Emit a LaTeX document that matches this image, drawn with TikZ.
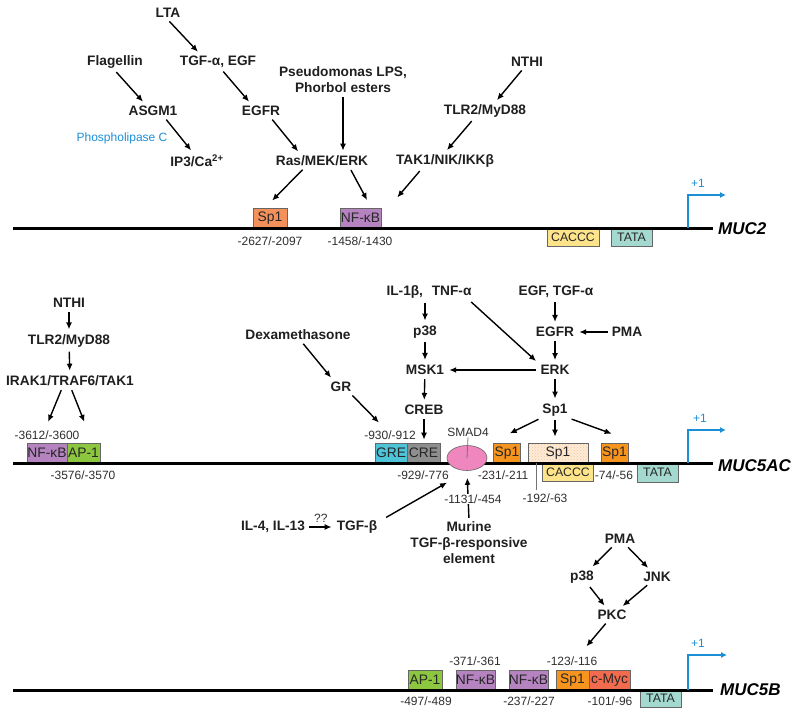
\documentclass[tikz,border=0pt]{standalone}
\usepackage{fontspec}
\setmainfont{Liberation Sans}
\usetikzlibrary{arrows.meta,shapes.geometric,patterns}
\definecolor{tssblue}{HTML}{1B8FD6}
\definecolor{sporange}{HTML}{F7941D}
\definecolor{spsalmon}{HTML}{F4915B}
\definecolor{nfpurple}{HTML}{B584C0}
\definecolor{apgreen}{HTML}{8DC63F}
\definecolor{cacyellow}{HTML}{FDE38A}
\definecolor{tatateal}{HTML}{A3D9CF}
\definecolor{grecyan}{HTML}{4EC4D9}
\definecolor{cregray}{HTML}{8E8E8E}
\definecolor{smadpink}{HTML}{EF86BD}
\definecolor{mycred}{HTML}{F26B4E}
\definecolor{sppale}{HTML}{FDEBDA}

\begin{document}
\begin{tikzpicture}[x=1pt,y=-1pt,
  sig/.style={font=\fontsize{13.7}{16}\selectfont\bfseries, text=black!88, inner sep=2pt, align=center},
  num/.style={font=\fontsize{12}{14}\selectfont, text=black!82, inner sep=1pt},
  site/.style={draw=black!60, line width=0.6pt, minimum height=20pt, inner sep=0pt, font=\fontsize{13.8}{14}\selectfont, text=black!85},
  lowsite/.style={site, minimum height=18pt, font=\fontsize{12.3}{14}\selectfont},
  gene/.style={font=\fontsize{17}{20}\selectfont\bfseries\itshape, anchor=west, inner sep=0pt},
  dna/.style={line width=3pt},
  arr/.style={->, line width=1.4pt, shorten >=3pt, shorten <=2pt},
  tss/.style={-{Latex[length=6pt,width=6pt]}, draw=tssblue, line width=1.3pt},
  tick/.style={draw=black!55, line width=0.8pt},
  >={Latex[length=7pt,width=6pt]}]
      \useasboundingbox (0,0) rectangle (800,716);

      \node[sig] (lta) at (168,13) {LTA};
      \node[sig] (tgfegf) at (218,62) {TGF-α, EGF};
      \node[sig] (flag) at (115,62) {Flagellin};
      \node[sig] (lps) at (343,80) {Pseudomonas LPS,\\Phorbol esters};
      \node[sig] (asgm) at (153,111) {ASGM1};
      \node[sig] (egfr) at (261,111) {EGFR};
      \node[num, text=tssblue] (plc) at (122,138) {Phospholipase C};
      \node[sig] (ipca) at (197,161) {IP3/Ca\textsuperscript{2+}};
      \node[sig] (ras) at (322,161) {Ras/MEK/ERK};
      \node[sig] (nthi) at (527,62) {NTHI};
      \node[sig] (tlr) at (485,111) {TLR2/MyD88};
      \node[sig] (tak) at (445,161) {TAK1/NIK/IKKβ};

      \node[site, fill=spsalmon, minimum width=34pt] (spone) at (270,218) {Sp1};
      \node[site, fill=nfpurple, minimum width=41pt] (nfone) at (360.5,218) {NF-κB};
      \node[lowsite, fill=cacyellow, minimum width=52pt] (cacone) at (573,237) {CACCC};
      \node[lowsite, fill=tatateal, minimum width=41pt] (tataone) at (631.5,237) {TATA};
      \node[num] (pspone) at (270,241) {-2627/-2097};
      \node[num] (pnfone) at (360,241) {-1458/-1430};
      \node[gene] (mucii) at (718,229) {MUC2};
      \coordinate (dnaone) at (13,228);
      \coordinate (tssone) at (688,228);
      \draw[dna] (dnaone) -- (dnaone -| mucii.west) [shorten >=5pt];
      \draw[tss] (tssone) -- ++(0,-33) -- ++(38,0);
      \node[num, text=tssblue] (plusone) at (698,183) {+1};

      \draw[arr] (lta.south) -- ([xshift=-18pt]tgfegf.north);
      \draw[arr] (flag.south) -- ([xshift=-8pt]asgm.north);
      \draw[arr] ([xshift=4pt]tgfegf.south) -- ([xshift=-10pt]egfr.north);
      \draw[arr] ([xshift=12pt]asgm.south) -- ([xshift=-4pt]ipca.north);
      \draw[arr] ([xshift=10pt]egfr.south) -- ([xshift=-22pt]ras.north);
      \draw[arr] (lps.south) -- (lps.south |- ras.north);
      \draw[arr] ([xshift=-4pt]nthi.south) -- ([xshift=10pt]tlr.north);
      \draw[arr] ([xshift=-12pt]tlr.south) -- (tak.north);
      \draw[arr] ([xshift=-18pt]ras.south) -- ([yshift=5pt]spone.north);
      \draw[arr] ([xshift=28pt]ras.south) -- ([xshift=8pt,yshift=5pt]nfone.north);
      \draw[arr] ([xshift=-24pt]tak.south) -- ([xshift=14pt,yshift=8pt]nfone.north east);

      \node[sig] (nthia) at (69,303) {NTHI};
      \node[sig] (tlra) at (69,341) {TLR2/MyD88};
      \node[sig] (irak) at (70,381) {IRAK1/TRAF6/TAK1};
      \node[sig] (dex) at (298,335) {Dexamethasone};
      \node[sig] (gr) at (341,387) {GR};
      \node[sig] (ilone) at (429,292) {IL-1β,\hspace{5pt} TNF-α};
      \node[sig] (ptea) at (425,332) {p38};
      \node[sig] (msk) at (425,370) {MSK1};
      \node[sig] (creb) at (424,410) {CREB};
      \node[sig] (egfa) at (556,292) {EGF, TGF-α};
      \node[sig] (egfra) at (555,332) {EGFR};
      \node[sig] (pmaa) at (627,332) {PMA};
      \node[sig] (erk) at (555,370) {ERK};
      \node[sig] (spn) at (555,410) {Sp1};
      \node[sig] (ilfour) at (273,527) {IL-4, IL-13};
      \node[sig] (tgfb) at (357,527) {TGF-β};
      \node[sig] (murine) at (469,543) {Murine\\TGF-β-responsive\\element};

      \node[site, fill=nfpurple, minimum width=40pt] (nfa) at (47,453) {NF-κB};
      \node[site, fill=apgreen, minimum width=33pt] (apa) at (83.5,453) {AP-1};
      \node[site, fill=grecyan, minimum width=32pt] (gre) at (391,453) {GRE};
      \node[site, fill=cregray, minimum width=33pt] (cre) at (423.5,453) {CRE};
      \node[site, fill=sporange, minimum width=27pt] (spa) at (507,453) {Sp1};
      \node[site, minimum width=60pt, preaction={fill=sppale}, pattern=crosshatch dots, pattern color=sporange!50] (spb) at (558,453) {Sp1};
      \node[site, fill=sporange, minimum width=27pt] (spc) at (614.5,453) {Sp1};
      \node[lowsite, fill=cacyellow, minimum width=51pt] (caca) at (568,472) {CACCC};
      \node[lowsite, fill=tatateal, minimum width=41pt, minimum height=19pt] (tataa) at (657.5,472.5) {TATA};
      \node[num] (pnfa) at (47,435) {-3612/-3600};
      \node[num] (papa) at (83,475) {-3576/-3570};
      \node[num] (pgre) at (390,435) {-930/-912};
      \node[num] (pcre) at (423,475) {-929/-776};
      \node[num] (smadlab) at (468,432) {SMAD4};
      \node[num] (pspa) at (503,475) {-231/-211};
      \node[num] (pspc) at (614,475) {-74/-56};
      \node[num] (pspb) at (545,498) {-192/-63};
      \coordinate (tickb) at (536,490);
      \node[gene] (mucac) at (718,466) {MUC5AC};
      \coordinate (dnaa) at (13,463);
      \coordinate (tssa) at (688,463);
      \draw[dna] (dnaa) -- (dnaa -| mucac.west) [shorten >=5pt];
      \node[ellipse, draw=black!60, line width=0.6pt, fill=smadpink, minimum width=40pt, minimum height=25pt, inner sep=0pt] (smad) at (467,458) {};
      \draw[tss] (tssa) -- ++(0,-33) -- ++(38,0);
      \node[num, text=tssblue] (plusa) at (700,418) {+1};
      \draw[tick] (smadlab.south) -- (smad.center);
      \draw[tick] ([xshift=-22pt]spb.south) -- (tickb);

      \draw[arr] (nthia) -- (tlra);
      \draw[arr] (tlra) -- (irak);
      \draw[arr] ([xshift=-8pt]irak.south) -- ([yshift=18pt]nfa.north);
      \draw[arr] ([xshift=1pt]irak.south) -- ([xshift=2pt,yshift=18pt]apa.north);
      \draw[arr] ([xshift=4pt]dex.south) -- ([xshift=-8pt]gr.north);
      \draw[arr] ([xshift=10pt]gr.south) -- ([xshift=-10pt,yshift=18pt]gre.north);
      \draw[arr] (ilone.south -| ptea) -- (ptea);
      \draw[arr] (ptea) -- (msk);
      \draw[arr] (msk) -- (creb);
      \draw[arr] (creb) -- (creb |- cre.north);
      \draw[arr] ([xshift=-4pt]ilone.south east) -- (erk.north west);
      \draw[arr] (egfa.south -| egfra) -- (egfra);
      \draw[arr] (pmaa) -- (egfra);
      \draw[arr] (egfra) -- (erk);
      \draw[arr] (erk) -- (msk);
      \draw[arr] (erk) -- (spn);
      \draw[arr] (spn.south west) -- ([yshift=8pt]spa.north);
      \draw[arr] (spn) -- (spn |- spb.north) [shorten >=6pt];
      \draw[arr] (spn.south east) -- ([yshift=8pt]spc.north);
      \draw[arr] (ilfour) -- node[num, above=3pt] (qq) {??} (tgfb);
      \draw[arr] ([xshift=5pt]tgfb.north east) -- ([shift={(-3pt,-14pt)}]smad.south west);
      \draw[arr] (murine.north) -- (smad.south) [shorten >=7pt];
      \node[num, fill=white] (psmad) at (473,499) {-1131/-454};

      \node[sig] (pmab) at (620,539) {PMA};
      \node[sig] (pteb) at (582,577) {p38};
      \node[sig] (jnk) at (657,577) {JNK};
      \node[sig] (pkc) at (612,615) {PKC};

      \node[site, fill=apgreen, minimum width=34pt] (apb) at (425,680) {AP-1};
      \node[site, fill=nfpurple, minimum width=39pt] (nfb) at (475.5,680) {NF-κB};
      \node[site, fill=nfpurple, minimum width=39pt] (nfc) at (528.5,680) {NF-κB};
      \node[site, fill=sporange, minimum width=33pt] (spd) at (572.5,680) {Sp1};
      \node[site, fill=mycred, minimum width=41pt] (myc) at (609.5,680) {c-Myc};
      \node[lowsite, fill=tatateal, minimum width=41pt, minimum height=17pt] (tatab) at (660.5,698.5) {TATA};
      \node[num] (papb) at (426,701) {-497/-489};
      \node[num] (pnfb) at (475,661) {-371/-361};
      \node[num] (pnfc) at (529,701) {-237/-227};
      \node[num] (pspd) at (572,661) {-123/-116};
      \node[num] (pmyc) at (610,701) {-101/-96};
      \node[gene] (mucb) at (720,690) {MUC5B};
      \coordinate (dnab) at (13,690);
      \coordinate (tssb) at (688,690);
      \draw[dna] (dnab) -- (dnab -| mucb.west) [shorten >=7pt];
      \draw[tss] (tssb) -- ++(0,-35) -- ++(39,0);
      \node[num, text=tssblue] (plusb) at (698,643) {+1};

      \draw[arr] (pmab) -- (pteb);
      \draw[arr] (pmab) -- (jnk);
      \draw[arr] (pteb) -- (pkc);
      \draw[arr] (jnk) -- (pkc);
      \draw[arr] ([xshift=-5pt]pkc.south) -- ([xshift=12pt,yshift=21pt]spd.north);
\end{tikzpicture}
\end{document}
